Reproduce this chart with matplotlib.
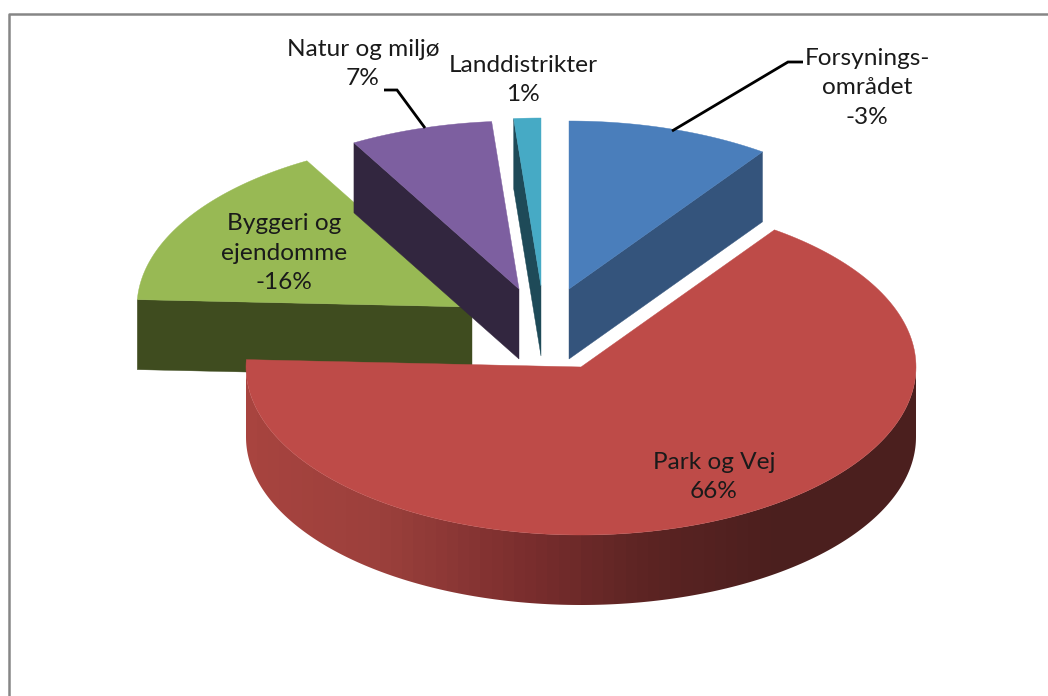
import numpy as np
import matplotlib
matplotlib.use("Agg")
import matplotlib.pyplot as plt
from matplotlib.patches import Polygon
from matplotlib.colors import LinearSegmentedColormap

categories = ["Forsynings-\nområdet", "Park og Vej", "Byggeri og\nejendomme", "Natur og miljø", "Landdistrikter"]
slice_shares = [9.8, 65.9, 16.1, 6.9, 1.3]
shown_labels = ["-3%", "66%", "-16%", "7%", "1%"]

top_colors = ["#4a7ebb", "#be4b48", "#98b954", "#7d5fa0", "#46aac5"]
side_colors = ["#34547c", "#8a3533", "#3f4c1f", "#32263f", "#1e4a58"]
apex = [(569, 289), (581, 367), (472, 307), (519, 289), (541, 286)]
draw_order = [2, 3, 4, 0, 1]
RX, RY, DEPTH = 335, 168, 70

plt.rcParams["font.family"] = ["Lato", "DejaVu Sans"]
fig = plt.figure(figsize=(10.48, 6.96), dpi=100)
ax = fig.add_axes([0, 0, 1, 1])
ax.set_xlim(0, 1048)
ax.set_ylim(696, 0)
ax.axis("off")

# chart frame: only the left and top edges fall inside the picture
ax.plot([9, 9, 1048], [696, 14, 14], color="#868686", lw=1.8, zorder=0)

ends = np.cumsum(slice_shares) / np.sum(slice_shares) * 360
starts = np.r_[0, ends[:-1]]


def pt(i, deg):
    t = np.radians(deg)
    return apex[i][0] + RX * np.sin(t), apex[i][1] - RY * np.cos(t)


shade = LinearSegmentedColormap.from_list(
    "wall", ["#a8443f", "#9b403c", "#7d2f2f", "#5c2423", "#4b1f1e", "#4b1f1e"])

z = 1
for i in draw_order:
    a0, a1 = starts[i], ends[i]
    ts = np.linspace(a0, a1, 200)
    arc = np.array([pt(i, d) for d in ts])
    ax0, ay0 = apex[i]

    # radial walls facing the viewer
    visible = []
    if 180 < a0 < 360:
        visible.append(a0)
    if 0 < a1 < 180:
        visible.append(a1)
    if i != 1:
        for d in visible:
            p = pt(i, d)
            ax.add_patch(Polygon([(ax0, ay0), p, (p[0], p[1] + DEPTH), (ax0, ay0 + DEPTH)],
                                 closed=True, fc=side_colors[i], ec=side_colors[i], lw=0.3, zorder=z))
            z += 1

    # outer curved wall on the front half
    lo, hi = max(a0, 90), min(a1, 270)
    if lo < hi:
        ws = np.linspace(lo, hi, 200)
        edge = np.array([pt(i, d) for d in ws])
        lower = edge + [0, DEPTH]
        wall = np.vstack([edge, lower[::-1]])
        poly = Polygon(wall, closed=True, fc="none", ec="none", zorder=z)
        ax.add_patch(poly)
        xmin, xmax = wall[:, 0].min(), wall[:, 0].max()
        ymin, ymax = wall[:, 1].min(), wall[:, 1].max()
        grad = np.linspace(0, 1, 60)[None, :]
        im = ax.imshow(grad, extent=(xmin, xmax, ymax, ymin), cmap=shade,
                       aspect="auto", zorder=z, interpolation="nearest")
        im.set_clip_path(poly)
        z += 1

    # top face
    face = np.vstack([[ax0, ay0], arc])
    ax.add_patch(Polygon(face, closed=True, fc=top_colors[i], ec=top_colors[i], lw=0.3, zorder=z))
    z += 1

ax.set_xlim(0, 1048)
ax.set_ylim(696, 0)

z += 1
leader = dict(color="black", lw=2, zorder=z, solid_capstyle="butt", solid_joinstyle="miter")
ax.plot([672, 788, 803], [131, 62, 62], **leader)
ax.plot([384, 397, 425], [90, 90, 128], **leader)

fs = 17.6
tk = dict(ha="center", va="center", fontsize=fs, color="#1a1a1a", zorder=z, linespacing=1.5)
ax.text(867, 88, f"{categories[0]}\n{shown_labels[0]}", **tk)
ax.text(714, 477, f"{categories[1]}\n{shown_labels[1]}", **tk)
ax.text(284, 253, f"{categories[2]}\n{shown_labels[2]}", **tk)
ax.text(363, 64, f"{categories[3]}\n{shown_labels[3]}", **tk)
ax.text(523, 80, f"{categories[4]}\n{shown_labels[4]}", **tk)

fig.savefig("out.png", dpi=100)
